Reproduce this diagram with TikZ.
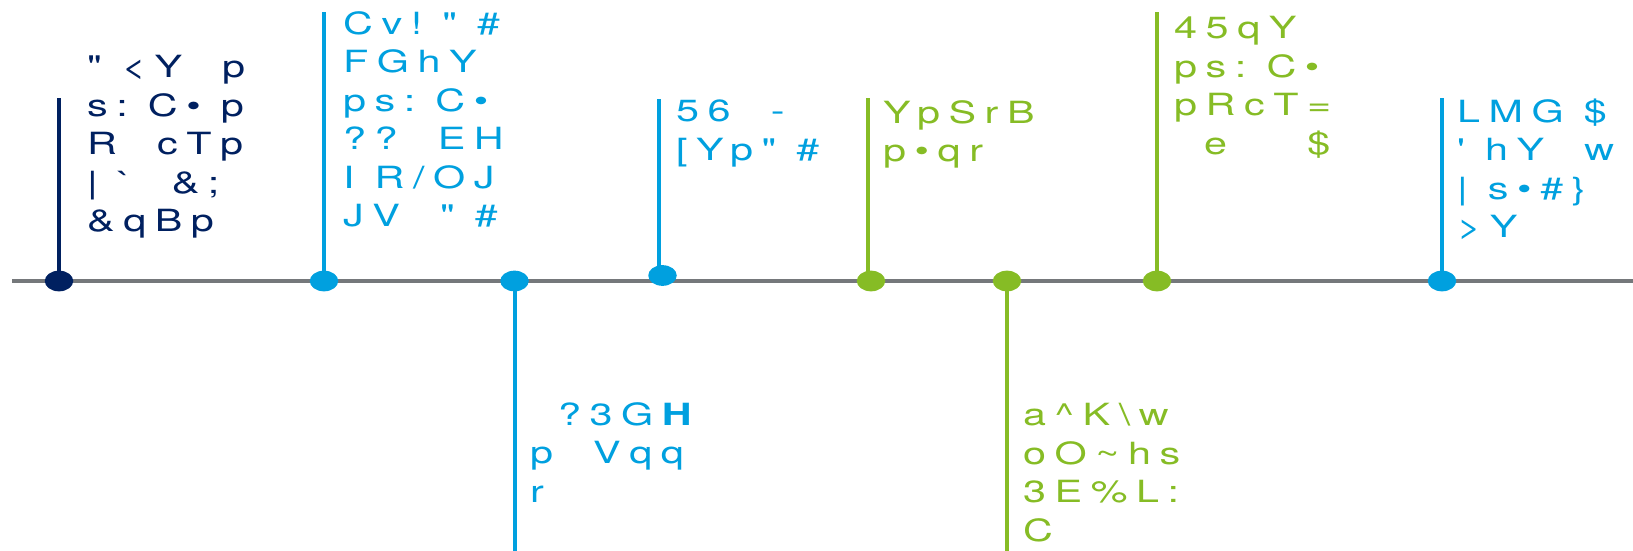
\documentclass[tikz,border=0pt]{standalone}
\usepackage{fontspec}
\newfontfamily\tlfont{TeX Gyre Heros}[FakeStretch=1.35,LetterSpace=28]
\usetikzlibrary{shapes.geometric}
\definecolor{tlnavy}{RGB}{0,32,96}
\definecolor{tlblue}{RGB}{0,160,223}
\definecolor{tlgreen}{RGB}{134,188,37}
\definecolor{tlgray}{RGB}{117,120,123}

\begin{document}
\begin{tikzpicture}[x=1pt, y=-1pt,
    dot/.style={ellipse, inner sep=0pt, minimum width=28.5pt, minimum height=20.7pt},
    stem/.style={line width=4pt},
    lbl/.style={anchor=north west, inner sep=0pt, align=left, font=\tlfont\fontsize{30.6}{38.5}\selectfont}]
    \useasboundingbox (0,0) rectangle (1633,551);

    % axis
    \coordinate (axl) at (12,281);
    \coordinate (axr) at (1633,281);
    \draw[tlgray, line width=4pt] (axl) -- (axr);

    % events on the axis
    \node[dot, fill=tlnavy] (d1) at (59,281) {};
    \node[dot, fill=tlblue] (d2) at (324,281) {};
    \node[dot, fill=tlblue] (d3) at (514.5,281) {};
    \node[dot, fill=tlblue] (d4) at (662.5,275.5) {};
    \node[dot, fill=tlgreen] (d5) at (871,281) {};
    \node[dot, fill=tlgreen] (d6) at (1007,281) {};
    \node[dot, fill=tlgreen] (d7) at (1157,281) {};
    \node[dot, fill=tlblue] (d8) at (1442,281) {};

    % stem ends
    \coordinate (t1) at (59,98);
    \coordinate (t2) at (324,12);
    \coordinate (t3) at (514.5,551);
    \coordinate (t4) at (659,99);
    \coordinate (t5) at (868,98);
    \coordinate (t6) at (1007,551);
    \coordinate (t7) at (1157,12);
    \coordinate (t8) at (1442,98);

    \draw[stem, tlnavy] (d1.center) -- (t1);
    \draw[stem, tlblue] (d2.center) -- (t2);
    \draw[stem, tlblue] (d3.center) -- (t3);
    \draw[stem, tlblue] (t4 |- d4.center) -- (t4);
    \draw[stem, tlgreen] (t5 |- d5.center) -- (t5);
    \draw[stem, tlgreen] (d6.center) -- (t6);
    \draw[stem, tlgreen] (d7.center) -- (t7);
    \draw[stem, tlblue] (d8.center) -- (t8);

    % labels
    \node[lbl, text=tlnavy] (l1) at (87,55) {"~<Y~~p\\ s:~C•~p\\ R~~cTp\\ |~`~~\&;\\ \&qBp};
    \node[lbl, text=tlblue] (l2) at (343,11) {Cv!~"~\#\\ FGhY\\ ps:~C•\\ ??~~EH\\ I~R/OJ\\ JV~~"~\#};
    \node[lbl, text=tlblue] (l3) at (530,402) {\hspace*{28pt}?3G\textbf{H}\\ p~~Vqq\\ r};
    \node[lbl, text=tlblue] (l4) at (676,100) {56~~-\\ {[}Yp"~\#};
    \node[lbl, text=tlgreen] (l5) at (883,100) {YpSrB\\ p•qr};
    \node[lbl, text=tlgreen] (l6) at (1023,403) {a\textasciicircum K\textbackslash w\\ oO\textasciitilde hs\\ 3E\%L:\\ C};
    \node[lbl, text=tlgreen] (l7) at (1174,16) {45qY\\ ps:~C•\\ pRcT=\\ \hspace*{30pt}e~~~~\$};
    \node[lbl, text=tlblue] (l8) at (1457,98.5) {LMG~\$\\ '~hY~~w\\ |~s•\#\}\\ >Y};
\end{tikzpicture}
\end{document}
